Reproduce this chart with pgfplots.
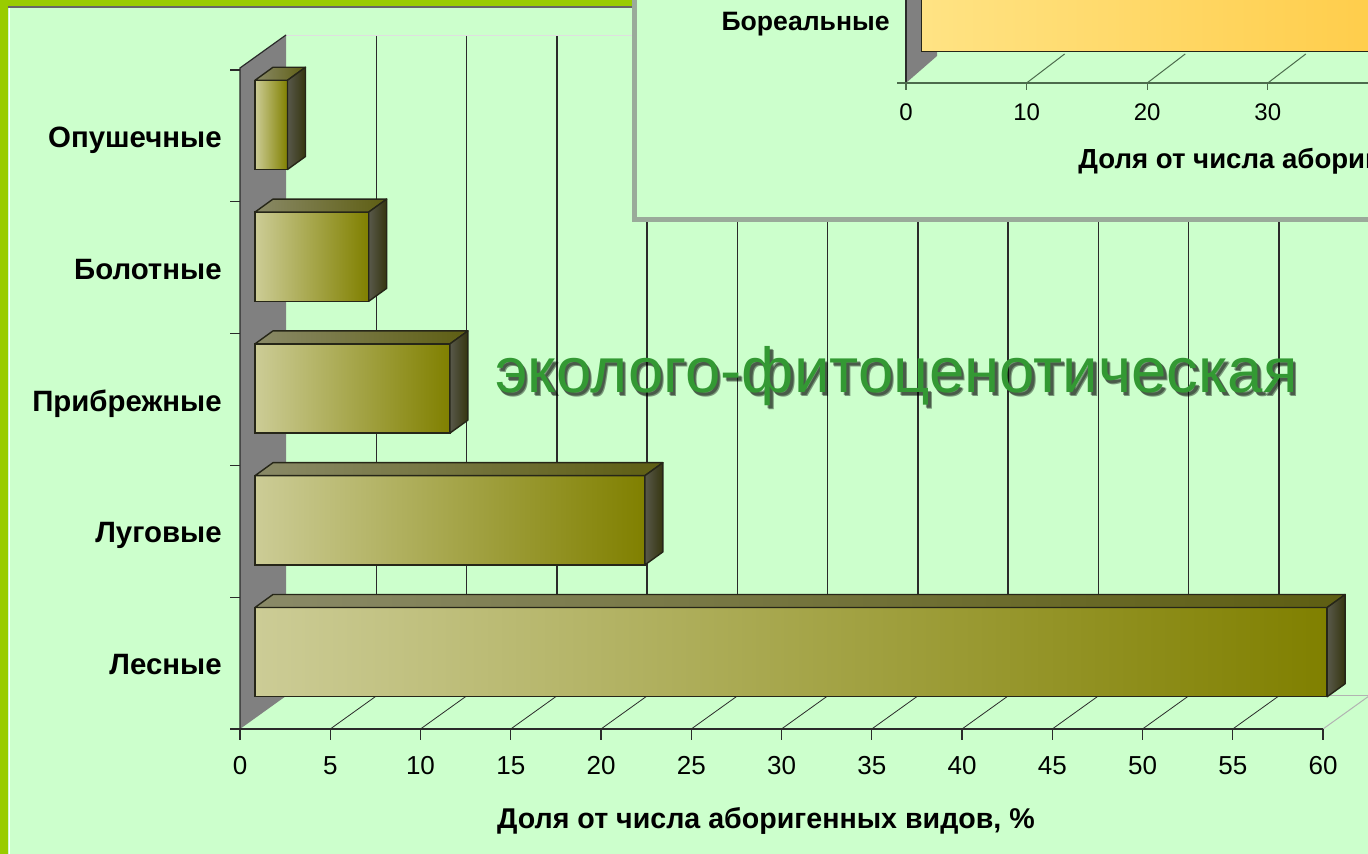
\documentclass[border=0pt]{standalone}
\usepackage{pgfplots}
\pgfplotsset{compat=1.18}
\usepackage{pgfplotstable}
\usepackage{fontspec}
\setmainfont{Liberation Sans}
\definecolor{bg}{HTML}{CCFFCC}
\definecolor{limeb}{HTML}{99CC00}
\definecolor{frontL}{HTML}{CCCC96}
\definecolor{frontR}{HTML}{808000}
\definecolor{topL}{HTML}{8A8A68}
\definecolor{topR}{HTML}{5E5E12}
\definecolor{sideL}{HTML}{58584A}
\definecolor{sideR}{HTML}{35350F}
\definecolor{barline}{HTML}{262618}
\definecolor{wallgray}{HTML}{808080}
\definecolor{txtgreen}{HTML}{339933}
\definecolor{orL}{HTML}{FFE384}
\definecolor{orR}{HTML}{FFC638}
\definecolor{panelshadow}{HTML}{9AAA9A}
\definecolor{gridc}{HTML}{2A2A2A}

\pgfplotstableread{
y v
0.5 59.4
1.5 21.6
2.5 10.8
3.5 6.3
4.5 1.8
}\maindata
\pgfplotstableread{
y v
0.5 50
}\borealdata

\begin{document}
\begin{tikzpicture}[x=0.5pt,y=0.5pt]
\begin{scope}[yshift=427pt, y=-0.5pt]
% background and frame
\fill[bg] (0,0) rectangle (1368,854);
\fill[limeb] (0,0) rectangle (8,854);
\fill[limeb] (0,0) rectangle (632,6);
\draw[black!60, line width=0.6pt] (8,7) -- (632,7);
\draw[white, line width=0.5pt] (9,8) -- (9,854);
% back wall top edge
\draw[white!75!gray, line width=0.5pt] (286,36) -- (1368,36);
% gridlines on back wall
\foreach \k in {1,...,12} \draw[gridc, line width=0.75pt] ({286+90.25*\k},36) -- ({286+90.25*\k},696);
% side wall
\fill[wallgray] (240,729) -- (240,68) -- (286,35) -- (286,696) -- cycle;
\draw[gridc, line width=0.6pt] (240,729) -- (240,68) -- (286,35);
% floor
\draw[gray!60, line width=0.5pt] (286,696) -- (1368,696);
\foreach \k in {1,...,11} \draw[gridc, line width=0.4pt] ({240+90.25*\k},729) -- ({286+90.25*\k},696);
\draw[gray!60, line width=0.5pt] (1323,729) -- (1369,696);
\draw[gridc, line width=0.6pt] (230,729) -- (1323,729);
\foreach \k in {0,...,12} \draw[gridc, line width=0.6pt] ({240+90.25*\k},729) -- ({240+90.25*\k},740);
\foreach \j in {0,...,5} \draw[gridc, line width=0.6pt] (230,{729-131.8*\j}) -- (240,{729-131.8*\j});
\end{scope}

\begin{axis}[
  at={(127.5pt,68pt)}, anchor=south west,
  scale only axis, width=541.5pt, height=329.5pt,
  xmin=0, xmax=60, ymin=0, ymax=5,
  enlargelimits=false, clip=false,
  axis line style={draw=none}, major tick length=0pt, tick style={draw=none},
  xtick={0,5,...,60},
  ytick={0.5,1.5,2.5,3.5,4.5},
  yticklabels={Лесные,Луговые,Прибрежные,Болотные,Опушечные},
  /pgf/number format/assume math mode=true,
  xticklabel style={anchor=base, inner sep=0pt, xshift=-7.5pt, yshift=-28.25pt, font=\fontsize{13}{15}\selectfont},
  yticklabel style={anchor=base east, inner sep=0pt, xshift=-16.5pt, yshift=-11.3pt, font=\bfseries\fontsize{14.7}{17}\selectfont},
  xlabel={Доля от числа аборигенных видов, \%},
  xlabel style={at={(axis description cs:0.5,0)}, anchor=base, inner sep=0pt, xshift=-15.25pt, yshift=-55.25pt, font=\bfseries\fontsize{14.3}{17}\selectfont},
]
\pgfplotsinvokeforeach{0,...,4}{
  \pgfplotstablegetelem{#1}{v}\of\maindata \let\bv\pgfplotsretval
  \pgfplotstablegetelem{#1}{y}\of\maindata \let\by\pgfplotsretval
  \pgfmathtruncatemacro\nx{#1+1}
  \pgfmathsetmacro\ytop{\by+0.3385}
  \pgfmathsetmacro\ybot{\by-0.3385}
  \edef\temp{%
    \noexpand\addplot[xbar, bar shift=0pt, bar width=0.677, draw=barline, line width=0.7pt, left color=frontL, right color=frontR]
      table[x=v, y=y, skip coords between index={0}{#1}, skip coords between index={\nx}{5}] {\noexpand\maindata};
    \noexpand\shadedraw[draw=barline, line width=0.7pt, line join=round, left color=topL, right color=topR]
      (axis cs:0,\ytop) -- (axis cs:\bv,\ytop) -- ([shift={(9pt,6.5pt)}]axis cs:\bv,\ytop) -- ([shift={(9pt,6.5pt)}]axis cs:0,\ytop) -- cycle;
    \noexpand\shadedraw[draw=barline, line width=0.7pt, line join=round, left color=sideL, right color=sideR]
      (axis cs:\bv,\ybot) -- (axis cs:\bv,\ytop) -- ([shift={(9pt,6.5pt)}]axis cs:\bv,\ytop) -- ([shift={(9pt,6.5pt)}]axis cs:\bv,\ybot) -- cycle;
  }
  \temp
}
\end{axis}

\begin{scope}[yshift=427pt, y=-0.5pt]
% overlay title text with shadow
\node[anchor=base, inner sep=0pt, text=black, opacity=0.4, font=\fontsize{31.8}{36}\selectfont] at (900,397) {эколого-фитоценотическая};
\node[anchor=base, inner sep=0pt, text=black, opacity=0.4, font=\fontsize{31.8}{36}\selectfont] at (899,396) {эколого-фитоценотическая};
\node[anchor=base, inner sep=0pt, text=txtgreen, font=\fontsize{31.8}{36}\selectfont] at (896.5,393) {эколого-фитоценотическая};
% overlay panel
\fill[panelshadow] (632,-2) rectangle (1370,222);
\fill[bg] (637,-2) rectangle (1370,217);
\fill[wallgray] (906,-2) -- (906,83) -- (937,56) -- (937,-2) -- cycle;
\draw[gridc, line width=0.6pt] (906,-2) -- (906,83);
\draw[black!70!green!40!gray, line width=0.6pt] (897,83) -- (1370,83);
\foreach \k in {0,...,4} \draw[black!70!green!40!gray, line width=0.6pt] ({906+120.6*\k},83) -- ({906+120.6*\k},90);
\foreach \k in {1,...,4} \draw[black!70!green!40!gray, line width=0.5pt] ({906+120.6*\k},83) -- ({944+120.6*\k},54);
\node[anchor=base west, inner sep=0pt, font=\bfseries\fontsize{13.8}{16}\selectfont] at (1078,169) {Доля от числа аборигенных видов, \%};
\end{scope}

\begin{axis}[
  at={(460.5pt,401pt)}, anchor=south west,
  scale only axis, width=224.3pt, height=30pt,
  xmin=0, xmax=37.2, ymin=0, ymax=1,
  enlargelimits=false,
  axis line style={draw=none}, major tick length=0pt, tick style={draw=none},
  xtick={0,10,20,30},
  ytick={0.5},
  yticklabels={Бореальные},
  /pgf/number format/assume math mode=true,
  xticklabel style={anchor=base, inner sep=0pt, xshift=-7.5pt, yshift=-34.25pt, font=\fontsize{12}{14}\selectfont},
  yticklabel style={anchor=base east, inner sep=0pt, xshift=-15.5pt, yshift=-4.25pt, font=\bfseries\fontsize{13.3}{16}\selectfont},
]
\addplot[xbar, bar shift=0pt, bar width=1, draw=barline, line width=0.7pt, left color=orL, right color=orR] table[x=v, y=y] {\borealdata};
\end{axis}

\pgfresetboundingbox
\path[use as bounding box] (0,0) rectangle (684pt,427pt);
\end{tikzpicture}
\end{document}
